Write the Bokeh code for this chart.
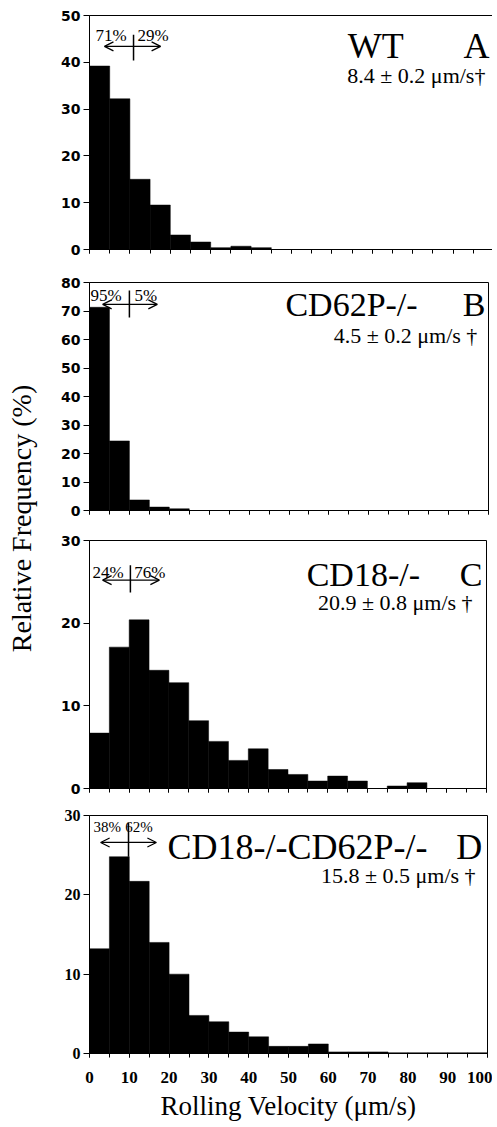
from math import pi
from bokeh.plotting import figure
from bokeh.layouts import row, column
from bokeh.models import Range1d, FixedTicker, Label, Arrow, OpenHead, ColumnDataSource
from bokeh.embed import file_html
from bokeh.resources import INLINE

# ---------------- data ----------------
bin_edges = list(range(0, 105, 5))
bin_left = bin_edges[:-1]
bin_right = bin_edges[1:]

freq_wt = [39.2, 32.2, 15.0, 9.5, 3.1, 1.6, 0.4, 0.7, 0.4, 0, 0, 0, 0, 0, 0, 0, 0, 0, 0, 0]
freq_cd62p = [71.3, 24.4, 3.7, 1.2, 0.6, 0, 0, 0, 0, 0, 0, 0, 0, 0, 0, 0, 0, 0, 0, 0]
freq_cd18 = [6.7, 17.1, 20.4, 14.3, 12.8, 8.2, 5.7, 3.4, 4.8, 2.3, 1.7, 0.9, 1.5, 0.9, 0.0, 0.3, 0.7, 0, 0, 0]
freq_dko = [13.2, 24.8, 21.7, 14.0, 10.0, 4.8, 4.0, 2.7, 2.1, 0.9, 0.9, 1.2, 0.2, 0.2, 0.2, 0.1, 0.1, 0.1, 0.1, 0.1]

genotypes = ["WT", "CD62P-/-", "CD18-/-", "CD18-/-CD62P-/-"]
panel_letters = ["A", "B", "C", "D"]
mean_velocity = ["8.4 ± 0.2 μm/s†", "4.5 ± 0.2 μm/s †", "20.9 ± 0.8 μm/s †", "15.8 ± 0.5 μm/s †"]
pct_below = ["71%", "95%", "24%", "38%"]
pct_above = ["29%", "5%", "76%", "62%"]
y_max = [50, 80, 30, 30]
y_ticks = [[0, 10, 20, 30, 40, 50], [0, 10, 20, 30, 40, 50, 60, 70, 80], [0, 10, 20, 30], [0, 10, 20, 30]]
x_ticks = [0, 10, 20, 30, 40, 50, 60, 70, 80, 90, 100]
x_minor = list(range(0, 105, 5))
all_freqs = [freq_wt, freq_cd62p, freq_cd18, freq_dko]

# ---------------- layout / styling ----------------
SERIF = "Liberation Serif"
# per panel: border_left, frame_w, border_right, border_top, frame_h, border_bottom
geom = [
    (45, 404, 4, 15, 234, 16),
    (50, 399, 4, 17, 228, 15),
    (48, 397, 8, 15, 248, 14),
    (45, 398, 10, 13, 238, 68),
]
# annotation placement (data units of each panel)
ann = [
    dict(bx=1.5, ax=11.9, ty=45.7, vx=10.9, vy=(40.4, 45.9), arx=(3.7, 17.6), ary=43.4,
         nx=63.9, ny=43.4, lx=99.0, sx=98.0, sy=37.2, psize=17, nsize=36),
    dict(bx=0.25, ax=11.3, ty=75.4, vx=10.0, vy=(67.7, 77.2), arx=(3.3, 17.0), ary=72.3,
         nx=49.1, ny=72.3, lx=99.2, sx=97.2, sy=61.4, psize=17, nsize=34),
    dict(bx=0.75, ax=11.3, ty=26.1, vx=10.3, vy=(23.7, 27.0), arx=(3.3, 17.6), ary=25.2,
         nx=54.7, ny=25.9, lx=99.0, sx=96.5, sy=22.5, psize=17, nsize=34),
    dict(bx=1.0, ax=9.0, ty=28.5, vx=9.8, vy=(24.8, 29.1), arx=(2.8, 16.8), ary=26.6,
         nx=19.6, ny=26.0, lx=98.7, sx=97.0, sy=22.4, psize=15, nsize=36),
]

panels = []
for i in range(4):
    bl, fw, br, bt, fh, bb = geom[i]
    a = ann[i]
    p = figure(frame_width=fw, frame_height=fh,
               x_range=Range1d(0, 100), y_range=Range1d(0, y_max[i]),
               output_backend="svg", toolbar_location=None,
               min_border_left=bl, min_border_right=br,
               min_border_top=bt, min_border_bottom=bb)
    p.background_fill_color = "white"
    p.border_fill_color = "white"
    p.outline_line_color = "black"
    p.outline_line_width = 1
    p.xgrid.visible = False
    p.ygrid.visible = False

    src = ColumnDataSource(dict(left=bin_left, right=bin_right, top=all_freqs[i]))
    p.quad(left="left", right="right", bottom=0, top="top", source=src,
           fill_color="black", line_color="black", line_width=0.5)

    # axes
    p.xaxis.ticker = FixedTicker(ticks=x_ticks, minor_ticks=x_minor)
    p.xaxis.major_tick_out = 4
    p.xaxis.major_tick_in = 0
    p.xaxis.minor_tick_out = 4
    p.xaxis.minor_tick_in = 0
    p.xaxis.axis_line_color = "black"
    p.yaxis.ticker = FixedTicker(ticks=y_ticks[i], minor_ticks=[])
    p.yaxis.major_tick_out = 6
    p.yaxis.major_tick_in = 0
    p.yaxis.major_label_standoff = 3
    p.yaxis.axis_line_color = "black"
    if i < 3:
        p.xaxis.major_label_overrides = {t: "" for t in x_ticks}
        p.xaxis.major_label_standoff = 0
        p.xaxis.major_label_text_font_size = "8px"
        p.yaxis.major_label_text_font = "DejaVu Sans"
        p.yaxis.major_label_text_font_size = "14px"
        p.yaxis.major_label_text_font_style = "bold"
        p.yaxis.major_label_text_color = "black"
    else:
        p.yaxis.major_label_text_font = SERIF
        p.yaxis.major_label_text_font_size = "16px"
        p.yaxis.major_label_text_font_style = "bold"
        p.yaxis.major_label_text_color = "black"
        p.xaxis.major_label_text_font = SERIF
        p.xaxis.major_label_text_font_size = "17px"
        p.xaxis.major_label_text_font_style = "bold"
        p.xaxis.major_label_text_color = "black"
        p.xaxis.major_label_standoff = 14
        p.xaxis.axis_label = "Rolling Velocity (μm/s)"
        p.xaxis.axis_label_text_font = SERIF
        p.xaxis.axis_label_text_font_size = "27px"
        p.xaxis.axis_label_text_font_style = "normal"
        p.xaxis.axis_label_text_color = "black"
        p.xaxis.axis_label_standoff = 5

    # genotype, panel letter, mean velocity
    p.add_layout(Label(x=a["nx"], y=a["ny"], text=genotypes[i], text_align="left",
                       text_baseline="alphabetic", text_font=SERIF,
                       text_font_size=f"{a['nsize']}px", text_color="black"))
    p.add_layout(Label(x=a["lx"], y=a["ny"], text=panel_letters[i], text_align="right",
                       text_baseline="alphabetic", text_font=SERIF,
                       text_font_size=f"{a['nsize']}px", text_color="black"))
    p.add_layout(Label(x=a["sx"], y=a["sy"], text=mean_velocity[i], text_align="right",
                       text_baseline="alphabetic", text_font=SERIF,
                       text_font_size="22px", text_color="black"))
    # percent split annotation
    p.add_layout(Label(x=a["bx"], y=a["ty"], text=pct_below[i], text_align="left",
                       text_baseline="alphabetic", text_font=SERIF,
                       text_font_size=f"{a['psize']}px", text_color="black"))
    p.add_layout(Label(x=a["ax"], y=a["ty"], text=pct_above[i], text_align="left",
                       text_baseline="alphabetic", text_font=SERIF,
                       text_font_size=f"{a['psize']}px", text_color="black"))
    p.segment(x0=[a["vx"]], y0=[a["vy"][0]], x1=[a["vx"]], y1=[a["vy"][1]],
              line_color="black", line_width=1.5)
    p.add_layout(Arrow(x_start=a["arx"][0], y_start=a["ary"], x_end=a["arx"][1], y_end=a["ary"],
                       start=OpenHead(size=9, line_width=1.3, line_color="black"),
                       end=OpenHead(size=9, line_width=1.3, line_color="black"),
                       line_width=1.3, line_color="black"))
    panels.append(p)

# y axis title, shared by all panels
total_h = sum(g[3] + g[4] + g[5] for g in geom)
LW = 39
lf = figure(width=LW, height=total_h, x_range=Range1d(3, 3 + LW), y_range=Range1d(3 + total_h, 3),
            output_backend="svg", toolbar_location=None, min_border=0,
            x_axis_location=None, y_axis_location=None)
lf.outline_line_color = None
lf.xgrid.visible = False
lf.ygrid.visible = False
lf.add_layout(Label(x=24, y=521, text="Relative Frequency (%)", angle=pi / 2,
                    text_align="center", text_baseline="middle", text_font=SERIF,
                    text_font_size="28px", text_color="black"))

layout = row(lf, column(*panels))
open("out.html", "w").write(file_html(layout, INLINE))
